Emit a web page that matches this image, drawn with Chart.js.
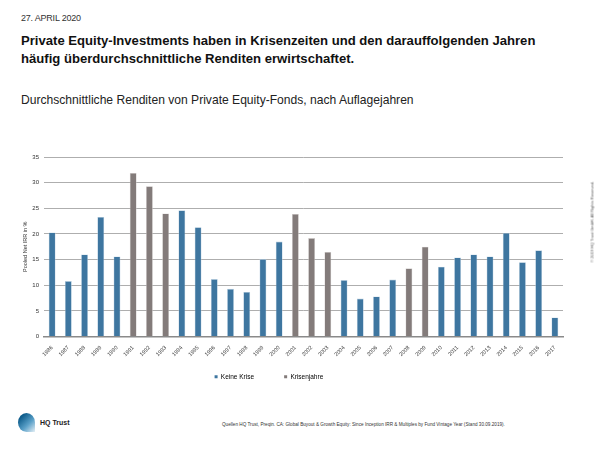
<!DOCTYPE html>
<html lang="de">
<head>
    <meta charset="UTF-8">
    <title>Renditen Private Equity-Fonds</title>
    <script src="https://cdn.jsdelivr.net/npm/chart.js@4.4.0/dist/chart.umd.min.js"></script>
    <style>
        body {
            margin: 0;
            width: 600px;
            height: 450px;
            position: relative;
            background: #fff;
            font-family: "Liberation Sans", Arial, sans-serif;
            color: #111;
            overflow: hidden;
        }
        .date {
            position: absolute;
            left: 21px;
            top: 13px;
            font-size: 9px;
            letter-spacing: -0.2px;
            color: #333;
        }
        .title {
            position: absolute;
            left: 21px;
            top: 32px;
            font-size: 13.1px;
            font-weight: bold;
            line-height: 18px;
        }
        .subtitle {
            position: absolute;
            left: 21px;
            top: 93px;
            font-size: 12.1px;
            color: #222;
        }
        .chart-box {
            position: absolute;
            left: 0;
            top: 145px;
            width: 600px;
            height: 245px;
        }
        .copyright {
            position: absolute;
            left: 592px;
            top: 222px;
            font-size: 4px;
            color: #555;
            white-space: nowrap;
            transform: translate(-50%, -50%) rotate(-90deg);
        }
        .source {
            position: absolute;
            left: 222px;
            top: 422px;
            font-size: 4.65px;
            color: #333;
            white-space: nowrap;
        }
        .logo {
            position: absolute;
            left: 18px;
            top: 413px;
            width: 17px;
            height: 19px;
            border-radius: 50% 50% 0 50%;
            background: linear-gradient(135deg, #0f5d8c 20%, #5aa0c8 60%, #e6f0f6 100%);
        }
        .logo-text {
            position: absolute;
            left: 40px;
            top: 419px;
            font-size: 7px;
            font-weight: bold;
            color: #222;
        }
    </style>
</head>
<body>
    <div class="date">27. APRIL 2020</div>
    <div class="title">Private Equity-Investments haben in Krisenzeiten und den darauffolgenden Jahren<br>häufig überdurchschnittliche Renditen erwirtschaftet.</div>
    <div class="subtitle">Durchschnittliche Renditen von Private Equity-Fonds, nach Auflagejahren</div>
    <div class="chart-box"><canvas id="irrChart"></canvas></div>
    <div class="copyright">© 2019 HQ Trust GmbH. All Rights Reserved.</div>
    <div class="source">Quellen HQ Trust, Preqin. CA: Global Buyout &amp; Growth Equity: Since Inception IRR &amp; Multiples by Fund Vintage Year (Stand 30.09.2019).</div>
    <div class="logo"></div>
    <div class="logo-text">HQ Trust</div>
    <script>
        var years = ['1986', '1987', '1988', '1989', '1990', '1991', '1992', '1993', '1994', '1995', '1996',
            '1997', '1998', '1999', '2000', '2001', '2002', '2003', '2004', '2005', '2006', '2007', '2008',
            '2009', '2010', '2011', '2012', '2013', '2014', '2015', '2016', '2017'];

        var keineKrise = [20.3, 10.8, 16.0, 23.3, 15.6, null, null, null, 24.6, 21.3, 11.2,
            9.3, 8.7, 15.1, 18.5, null, null, null, 11.0, 7.4, 7.8, 11.1, null,
            null, 13.6, 15.4, 16.0, 15.6, 20.2, 14.5, 16.8, 3.7];

        var krisenjahre = [null, null, null, null, null, 31.9, 29.3, 24.0, null, null, null,
            null, null, null, null, 23.9, 19.2, 16.5, null, null, null, null, 13.3,
            17.5, null, null, null, null, null, null, null, null];

        var yTicks = [0, 5, 10, 15, 20, 25, 30, 35];

        // trailing spaces shift the legend entries to where they sit in the original
        var legendGap = [10, 25];

        var ctx = document.getElementById('irrChart').getContext('2d');
        var irrChart = new Chart(ctx, {
            type: 'bar',
            data: {
                labels: years,
                datasets: [
                    {
                        label: 'Keine Krise',
                        data: keineKrise,
                        backgroundColor: '#3e76a0',
                        borderColor: '#b9cfe0',
                        borderWidth: 0.6,
                        barPercentage: 0.85,
                        categoryPercentage: 0.5
                    },
                    {
                        label: 'Krisenjahre',
                        data: krisenjahre,
                        backgroundColor: '#837b7a',
                        borderColor: '#d3cfce',
                        borderWidth: 0.6,
                        barPercentage: 0.85,
                        categoryPercentage: 0.5
                    }
                ]
            },
            options: {
                responsive: true,
                maintainAspectRatio: false,
                animation: false,
                layout: {
                    padding: { left: 20, right: 37, top: 12, bottom: 0 }
                },
                plugins: {
                    tooltip: { enabled: false },
                    legend: {
                        position: 'bottom',
                        labels: {
                            boxWidth: 3,
                            boxHeight: 3,
                            padding: 12,
                            color: '#333',
                            font: { family: 'Liberation Sans', size: 6.5 },
                            generateLabels: function (chart) {
                                return chart.data.datasets.map(function (ds, i) {
                                    return {
                                        text: ds.label + ' '.repeat(legendGap[i]),
                                        fillStyle: ds.backgroundColor,
                                        strokeStyle: ds.backgroundColor,
                                        lineWidth: 0,
                                        datasetIndex: i
                                    };
                                });
                            }
                        }
                    }
                },
                scales: {
                    x: {
                        stacked: true,
                        grid: { display: false },
                        border: { color: '#8a8a8a', width: 1.5 },
                        ticks: {
                            autoSkip: false,
                            minRotation: 45,
                            maxRotation: 45,
                            padding: 0,
                            color: '#333',
                            font: { family: 'Liberation Sans', size: 5.5 }
                        },
                        afterFit: function (scale) { scale.height = 25; }
                    },
                    y: {
                        stacked: true,
                        min: 0,
                        max: 35,
                        afterBuildTicks: function (scale) {
                            scale.ticks = yTicks.map(function (v) { return { value: v }; });
                        },
                        afterFit: function (scale) { scale.width = 24; },
                        grid: { color: '#999', lineWidth: 0.8, drawTicks: false },
                        border: { display: false },
                        title: {
                            display: true,
                            text: 'Pooled Net IRR in %',
                            color: '#333',
                            padding: 2,
                            font: { family: 'Liberation Sans', size: 5.5 }
                        },
                        ticks: {
                            padding: 5,
                            color: '#333',
                            font: { family: 'Liberation Sans', size: 6 }
                        }
                    }
                }
            }
        });
    </script>
</body>
</html>
